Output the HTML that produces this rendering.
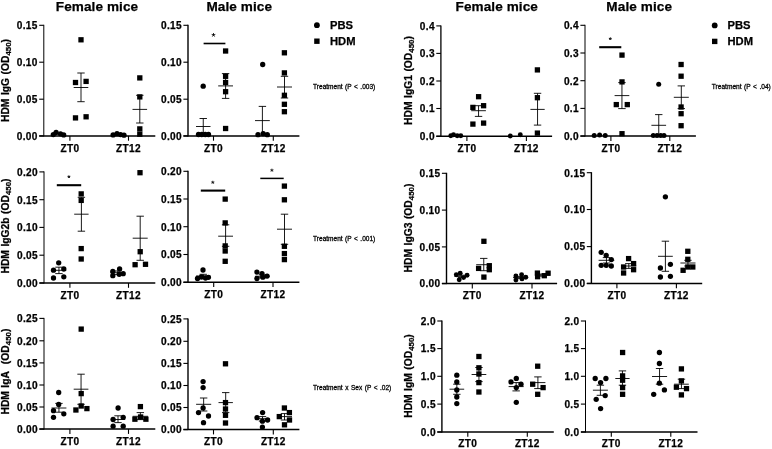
<!DOCTYPE html>
<html><head><meta charset="utf-8"><title>HDM immunoglobulins</title>
<style>
html,body{margin:0;padding:0;background:#fff;}
body{width:772px;height:449px;overflow:hidden;font-family:"Liberation Sans", sans-serif;}
svg{display:block;will-change:transform;filter:blur(0.4px);}
svg text{font-family:"Liberation Sans", sans-serif;fill:#000;stroke:#000;stroke-width:0.25px;}
</style></head><body>
<svg width="772" height="449" viewBox="0 0 772 449">
<rect width="772" height="449" fill="#fff"/>
<line x1="43.80" y1="24.80" x2="43.80" y2="136.40" stroke="#000" stroke-width="1.0"/>
<line x1="39.20" y1="135.90" x2="155.30" y2="135.90" stroke="#000" stroke-width="1.5"/>
<line x1="39.20" y1="25.30" x2="43.80" y2="25.30" stroke="#000" stroke-width="1.1"/>
<text x="37.80" y="29.15" font-size="10.1" font-weight="bold" text-anchor="end" letter-spacing="0.35">0.15</text>
<line x1="39.20" y1="62.20" x2="43.80" y2="62.20" stroke="#000" stroke-width="1.1"/>
<text x="37.80" y="66.05" font-size="10.1" font-weight="bold" text-anchor="end" letter-spacing="0.35">0.10</text>
<line x1="39.20" y1="99.20" x2="43.80" y2="99.20" stroke="#000" stroke-width="1.1"/>
<text x="37.80" y="103.05" font-size="10.1" font-weight="bold" text-anchor="end" letter-spacing="0.35">0.05</text>
<line x1="39.20" y1="135.90" x2="43.80" y2="135.90" stroke="#000" stroke-width="1.1"/>
<text x="37.80" y="139.75" font-size="10.1" font-weight="bold" text-anchor="end" letter-spacing="0.35">0.00</text>
<line x1="69.90" y1="135.90" x2="69.90" y2="140.70" stroke="#000" stroke-width="1.1"/>
<text x="69.90" y="151.60" font-size="10.1" font-weight="bold" text-anchor="middle" letter-spacing="0.3">ZT0</text>
<line x1="128.50" y1="135.90" x2="128.50" y2="140.70" stroke="#000" stroke-width="1.1"/>
<text x="128.50" y="151.60" font-size="10.1" font-weight="bold" text-anchor="middle" letter-spacing="0.3">ZT12</text>
<text transform="translate(8.80,80.50) rotate(-90)" font-size="10.3" font-weight="bold" text-anchor="middle" word-spacing="0.6">HDM IgG (OD<tspan font-size="7.9" dy="2.3">450</tspan><tspan dy="-2.3">)</tspan></text>
<circle cx="53.30" cy="134.60" r="2.65" fill="#000"/>
<circle cx="56.10" cy="132.50" r="2.65" fill="#000"/>
<circle cx="60.50" cy="133.80" r="2.65" fill="#000"/>
<circle cx="63.70" cy="134.90" r="2.65" fill="#000"/>
<rect x="78.35" y="37.15" width="5.3" height="5.3" fill="#000"/>
<rect x="72.85" y="79.85" width="5.3" height="5.3" fill="#000"/>
<rect x="83.45" y="78.75" width="5.3" height="5.3" fill="#000"/>
<rect x="72.85" y="115.25" width="5.3" height="5.3" fill="#000"/>
<rect x="83.45" y="114.15" width="5.3" height="5.3" fill="#000"/>
<line x1="73.70" y1="87.50" x2="88.30" y2="87.50" stroke="#000" stroke-width="0.9"/>
<line x1="81.00" y1="73.00" x2="81.00" y2="101.70" stroke="#000" stroke-width="0.9"/>
<line x1="77.30" y1="73.00" x2="84.70" y2="73.00" stroke="#000" stroke-width="0.9"/>
<line x1="77.30" y1="101.70" x2="84.70" y2="101.70" stroke="#000" stroke-width="0.9"/>
<circle cx="113.10" cy="134.90" r="2.65" fill="#000"/>
<circle cx="117.00" cy="133.70" r="2.65" fill="#000"/>
<circle cx="120.60" cy="134.60" r="2.65" fill="#000"/>
<circle cx="124.00" cy="135.20" r="2.65" fill="#000"/>
<rect x="137.15" y="75.25" width="5.3" height="5.3" fill="#000"/>
<rect x="137.15" y="94.25" width="5.3" height="5.3" fill="#000"/>
<rect x="137.15" y="126.25" width="5.3" height="5.3" fill="#000"/>
<rect x="137.15" y="131.55" width="5.3" height="5.3" fill="#000"/>
<line x1="132.50" y1="109.40" x2="147.10" y2="109.40" stroke="#000" stroke-width="0.9"/>
<line x1="139.80" y1="95.30" x2="139.80" y2="123.00" stroke="#000" stroke-width="0.9"/>
<line x1="136.10" y1="95.30" x2="143.50" y2="95.30" stroke="#000" stroke-width="0.9"/>
<line x1="136.10" y1="123.00" x2="143.50" y2="123.00" stroke="#000" stroke-width="0.9"/>
<line x1="188.00" y1="24.80" x2="188.00" y2="136.40" stroke="#000" stroke-width="1.4"/>
<line x1="183.40" y1="135.90" x2="299.40" y2="135.90" stroke="#000" stroke-width="1.5"/>
<line x1="183.40" y1="25.30" x2="188.00" y2="25.30" stroke="#000" stroke-width="1.1"/>
<text x="182.00" y="29.15" font-size="10.1" font-weight="bold" text-anchor="end" letter-spacing="0.35">0.15</text>
<line x1="183.40" y1="62.20" x2="188.00" y2="62.20" stroke="#000" stroke-width="1.1"/>
<text x="182.00" y="66.05" font-size="10.1" font-weight="bold" text-anchor="end" letter-spacing="0.35">0.10</text>
<line x1="183.40" y1="99.20" x2="188.00" y2="99.20" stroke="#000" stroke-width="1.1"/>
<text x="182.00" y="103.05" font-size="10.1" font-weight="bold" text-anchor="end" letter-spacing="0.35">0.05</text>
<line x1="183.40" y1="135.90" x2="188.00" y2="135.90" stroke="#000" stroke-width="1.1"/>
<text x="182.00" y="139.75" font-size="10.1" font-weight="bold" text-anchor="end" letter-spacing="0.35">0.00</text>
<line x1="213.50" y1="135.90" x2="213.50" y2="140.70" stroke="#000" stroke-width="1.1"/>
<text x="213.50" y="151.60" font-size="10.1" font-weight="bold" text-anchor="middle" letter-spacing="0.3">ZT0</text>
<line x1="273.30" y1="135.90" x2="273.30" y2="140.70" stroke="#000" stroke-width="1.1"/>
<text x="273.30" y="151.60" font-size="10.1" font-weight="bold" text-anchor="middle" letter-spacing="0.3">ZT12</text>
<circle cx="203.20" cy="86.20" r="2.65" fill="#000"/>
<circle cx="198.50" cy="134.50" r="2.65" fill="#000"/>
<circle cx="201.80" cy="134.50" r="2.65" fill="#000"/>
<circle cx="205.20" cy="134.50" r="2.65" fill="#000"/>
<circle cx="208.50" cy="134.50" r="2.65" fill="#000"/>
<line x1="196.00" y1="126.50" x2="210.50" y2="126.50" stroke="#000" stroke-width="0.9"/>
<line x1="203.25" y1="118.50" x2="203.25" y2="135.90" stroke="#000" stroke-width="0.9"/>
<line x1="199.55" y1="118.50" x2="206.95" y2="118.50" stroke="#000" stroke-width="0.9"/>
<rect x="222.95" y="48.35" width="5.3" height="5.3" fill="#000"/>
<rect x="222.95" y="73.65" width="5.3" height="5.3" fill="#000"/>
<rect x="222.95" y="79.85" width="5.3" height="5.3" fill="#000"/>
<rect x="222.95" y="89.05" width="5.3" height="5.3" fill="#000"/>
<rect x="222.95" y="125.85" width="5.3" height="5.3" fill="#000"/>
<line x1="218.20" y1="85.90" x2="233.00" y2="85.90" stroke="#000" stroke-width="0.9"/>
<line x1="225.60" y1="73.60" x2="225.60" y2="98.40" stroke="#000" stroke-width="0.9"/>
<line x1="221.90" y1="73.60" x2="229.30" y2="73.60" stroke="#000" stroke-width="0.9"/>
<line x1="221.90" y1="98.40" x2="229.30" y2="98.40" stroke="#000" stroke-width="0.9"/>
<circle cx="262.70" cy="64.50" r="2.65" fill="#000"/>
<circle cx="258.00" cy="134.70" r="2.65" fill="#000"/>
<circle cx="263.20" cy="133.70" r="2.65" fill="#000"/>
<circle cx="267.30" cy="134.70" r="2.65" fill="#000"/>
<line x1="255.00" y1="120.60" x2="269.80" y2="120.60" stroke="#000" stroke-width="0.9"/>
<line x1="262.40" y1="106.40" x2="262.40" y2="135.90" stroke="#000" stroke-width="0.9"/>
<line x1="258.70" y1="106.40" x2="266.10" y2="106.40" stroke="#000" stroke-width="0.9"/>
<rect x="281.75" y="50.15" width="5.3" height="5.3" fill="#000"/>
<rect x="281.75" y="70.25" width="5.3" height="5.3" fill="#000"/>
<rect x="281.75" y="92.65" width="5.3" height="5.3" fill="#000"/>
<rect x="281.75" y="101.65" width="5.3" height="5.3" fill="#000"/>
<rect x="281.75" y="109.05" width="5.3" height="5.3" fill="#000"/>
<line x1="277.00" y1="87.00" x2="292.00" y2="87.00" stroke="#000" stroke-width="0.9"/>
<line x1="284.50" y1="76.30" x2="284.50" y2="98.00" stroke="#000" stroke-width="0.9"/>
<line x1="280.80" y1="76.30" x2="288.20" y2="76.30" stroke="#000" stroke-width="0.9"/>
<line x1="280.80" y1="98.00" x2="288.20" y2="98.00" stroke="#000" stroke-width="0.9"/>
<line x1="203.60" y1="43.50" x2="225.40" y2="43.50" stroke="#000" stroke-width="1.6"/>
<path d="M213.50 35.00L213.50 33.10M213.50 35.00L215.31 34.41M213.50 35.00L214.62 36.54M213.50 35.00L212.38 36.54M213.50 35.00L211.69 34.41" stroke="#000" stroke-width="0.9" fill="none"/>
<line x1="44.00" y1="171.40" x2="44.00" y2="283.50" stroke="#000" stroke-width="1.0"/>
<line x1="39.40" y1="283.00" x2="155.30" y2="283.00" stroke="#000" stroke-width="1.5"/>
<line x1="39.40" y1="171.90" x2="44.00" y2="171.90" stroke="#000" stroke-width="1.1"/>
<text x="38.00" y="175.75" font-size="10.1" font-weight="bold" text-anchor="end" letter-spacing="0.35">0.20</text>
<line x1="39.40" y1="199.70" x2="44.00" y2="199.70" stroke="#000" stroke-width="1.1"/>
<text x="38.00" y="203.55" font-size="10.1" font-weight="bold" text-anchor="end" letter-spacing="0.35">0.15</text>
<line x1="39.40" y1="227.40" x2="44.00" y2="227.40" stroke="#000" stroke-width="1.1"/>
<text x="38.00" y="231.25" font-size="10.1" font-weight="bold" text-anchor="end" letter-spacing="0.35">0.10</text>
<line x1="39.40" y1="255.20" x2="44.00" y2="255.20" stroke="#000" stroke-width="1.1"/>
<text x="38.00" y="259.05" font-size="10.1" font-weight="bold" text-anchor="end" letter-spacing="0.35">0.05</text>
<line x1="39.40" y1="283.00" x2="44.00" y2="283.00" stroke="#000" stroke-width="1.1"/>
<text x="38.00" y="286.85" font-size="10.1" font-weight="bold" text-anchor="end" letter-spacing="0.35">0.00</text>
<line x1="69.90" y1="283.00" x2="69.90" y2="287.80" stroke="#000" stroke-width="1.1"/>
<text x="69.90" y="298.80" font-size="10.1" font-weight="bold" text-anchor="middle" letter-spacing="0.3">ZT0</text>
<line x1="128.50" y1="283.00" x2="128.50" y2="287.80" stroke="#000" stroke-width="1.1"/>
<text x="128.50" y="298.80" font-size="10.1" font-weight="bold" text-anchor="middle" letter-spacing="0.3">ZT12</text>
<text transform="translate(8.80,226.00) rotate(-90)" font-size="10.3" font-weight="bold" text-anchor="middle" word-spacing="0.6">HDM IgG2b (OD<tspan font-size="7.9" dy="2.3">450</tspan><tspan dy="-2.3">)</tspan></text>
<circle cx="58.70" cy="262.80" r="2.65" fill="#000"/>
<circle cx="53.50" cy="270.20" r="2.65" fill="#000"/>
<circle cx="63.80" cy="269.00" r="2.65" fill="#000"/>
<circle cx="53.50" cy="278.00" r="2.65" fill="#000"/>
<circle cx="63.80" cy="276.80" r="2.65" fill="#000"/>
<line x1="51.70" y1="270.30" x2="66.20" y2="270.30" stroke="#000" stroke-width="0.9"/>
<line x1="58.95" y1="267.20" x2="58.95" y2="273.60" stroke="#000" stroke-width="0.9"/>
<line x1="55.25" y1="267.20" x2="62.65" y2="267.20" stroke="#000" stroke-width="0.9"/>
<line x1="55.25" y1="273.60" x2="62.65" y2="273.60" stroke="#000" stroke-width="0.9"/>
<rect x="78.55" y="191.25" width="5.3" height="5.3" fill="#000"/>
<rect x="78.55" y="197.75" width="5.3" height="5.3" fill="#000"/>
<rect x="78.55" y="245.95" width="5.3" height="5.3" fill="#000"/>
<rect x="78.55" y="256.35" width="5.3" height="5.3" fill="#000"/>
<line x1="74.20" y1="214.20" x2="88.60" y2="214.20" stroke="#000" stroke-width="0.9"/>
<line x1="81.40" y1="197.30" x2="81.40" y2="231.20" stroke="#000" stroke-width="0.9"/>
<line x1="77.70" y1="197.30" x2="85.10" y2="197.30" stroke="#000" stroke-width="0.9"/>
<line x1="77.70" y1="231.20" x2="85.10" y2="231.20" stroke="#000" stroke-width="0.9"/>
<circle cx="112.80" cy="271.50" r="2.65" fill="#000"/>
<circle cx="119.60" cy="269.00" r="2.65" fill="#000"/>
<circle cx="123.20" cy="273.70" r="2.65" fill="#000"/>
<circle cx="112.80" cy="275.70" r="2.65" fill="#000"/>
<circle cx="119.20" cy="274.30" r="2.65" fill="#000"/>
<line x1="110.50" y1="272.70" x2="125.00" y2="272.70" stroke="#000" stroke-width="0.9"/>
<line x1="117.75" y1="271.00" x2="117.75" y2="274.40" stroke="#000" stroke-width="0.9"/>
<line x1="114.05" y1="271.00" x2="121.45" y2="271.00" stroke="#000" stroke-width="0.9"/>
<line x1="114.05" y1="274.40" x2="121.45" y2="274.40" stroke="#000" stroke-width="0.9"/>
<rect x="137.35" y="170.05" width="5.3" height="5.3" fill="#000"/>
<rect x="137.55" y="249.05" width="5.3" height="5.3" fill="#000"/>
<rect x="132.45" y="262.05" width="5.3" height="5.3" fill="#000"/>
<rect x="142.85" y="261.65" width="5.3" height="5.3" fill="#000"/>
<line x1="132.70" y1="238.20" x2="147.70" y2="238.20" stroke="#000" stroke-width="0.9"/>
<line x1="140.20" y1="216.20" x2="140.20" y2="260.30" stroke="#000" stroke-width="0.9"/>
<line x1="136.50" y1="216.20" x2="143.90" y2="216.20" stroke="#000" stroke-width="0.9"/>
<line x1="136.50" y1="260.30" x2="143.90" y2="260.30" stroke="#000" stroke-width="0.9"/>
<line x1="56.80" y1="185.20" x2="81.20" y2="185.20" stroke="#000" stroke-width="2.1"/>
<path d="M68.90 176.80L68.90 175.30M68.90 176.80L70.33 176.34M68.90 176.80L69.78 178.01M68.90 176.80L68.02 178.01M68.90 176.80L67.47 176.34" stroke="#000" stroke-width="0.9" fill="none"/>
<line x1="188.00" y1="170.80" x2="188.00" y2="282.80" stroke="#000" stroke-width="1.4"/>
<line x1="183.40" y1="282.30" x2="299.40" y2="282.30" stroke="#000" stroke-width="1.5"/>
<line x1="183.40" y1="171.30" x2="188.00" y2="171.30" stroke="#000" stroke-width="1.1"/>
<text x="182.00" y="175.15" font-size="10.1" font-weight="bold" text-anchor="end" letter-spacing="0.35">0.20</text>
<line x1="183.40" y1="199.00" x2="188.00" y2="199.00" stroke="#000" stroke-width="1.1"/>
<text x="182.00" y="202.85" font-size="10.1" font-weight="bold" text-anchor="end" letter-spacing="0.35">0.15</text>
<line x1="183.40" y1="226.70" x2="188.00" y2="226.70" stroke="#000" stroke-width="1.1"/>
<text x="182.00" y="230.55" font-size="10.1" font-weight="bold" text-anchor="end" letter-spacing="0.35">0.10</text>
<line x1="183.40" y1="254.50" x2="188.00" y2="254.50" stroke="#000" stroke-width="1.1"/>
<text x="182.00" y="258.35" font-size="10.1" font-weight="bold" text-anchor="end" letter-spacing="0.35">0.05</text>
<line x1="183.40" y1="282.30" x2="188.00" y2="282.30" stroke="#000" stroke-width="1.1"/>
<text x="182.00" y="286.15" font-size="10.1" font-weight="bold" text-anchor="end" letter-spacing="0.35">0.00</text>
<line x1="213.70" y1="282.30" x2="213.70" y2="287.10" stroke="#000" stroke-width="1.1"/>
<text x="213.70" y="298.20" font-size="10.1" font-weight="bold" text-anchor="middle" letter-spacing="0.3">ZT0</text>
<line x1="273.00" y1="282.30" x2="273.00" y2="287.10" stroke="#000" stroke-width="1.1"/>
<text x="273.00" y="298.20" font-size="10.1" font-weight="bold" text-anchor="middle" letter-spacing="0.3">ZT12</text>
<circle cx="203.00" cy="270.00" r="2.65" fill="#000"/>
<circle cx="197.50" cy="278.50" r="2.65" fill="#000"/>
<circle cx="201.50" cy="277.00" r="2.65" fill="#000"/>
<circle cx="205.50" cy="278.00" r="2.65" fill="#000"/>
<circle cx="208.40" cy="277.30" r="2.65" fill="#000"/>
<line x1="196.00" y1="276.00" x2="210.50" y2="276.00" stroke="#000" stroke-width="0.9"/>
<line x1="203.25" y1="274.30" x2="203.25" y2="277.70" stroke="#000" stroke-width="0.9"/>
<line x1="199.55" y1="274.30" x2="206.95" y2="274.30" stroke="#000" stroke-width="0.9"/>
<line x1="199.55" y1="277.70" x2="206.95" y2="277.70" stroke="#000" stroke-width="0.9"/>
<rect x="222.55" y="196.45" width="5.3" height="5.3" fill="#000"/>
<rect x="222.55" y="220.25" width="5.3" height="5.3" fill="#000"/>
<rect x="222.55" y="243.25" width="5.3" height="5.3" fill="#000"/>
<rect x="222.55" y="248.35" width="5.3" height="5.3" fill="#000"/>
<rect x="222.55" y="258.65" width="5.3" height="5.3" fill="#000"/>
<line x1="218.20" y1="236.20" x2="233.00" y2="236.20" stroke="#000" stroke-width="0.9"/>
<line x1="225.60" y1="224.80" x2="225.60" y2="246.30" stroke="#000" stroke-width="0.9"/>
<line x1="221.90" y1="224.80" x2="229.30" y2="224.80" stroke="#000" stroke-width="0.9"/>
<line x1="221.90" y1="246.30" x2="229.30" y2="246.30" stroke="#000" stroke-width="0.9"/>
<circle cx="256.90" cy="272.10" r="2.65" fill="#000"/>
<circle cx="262.00" cy="273.60" r="2.65" fill="#000"/>
<circle cx="267.10" cy="276.10" r="2.65" fill="#000"/>
<circle cx="256.90" cy="278.50" r="2.65" fill="#000"/>
<circle cx="262.80" cy="277.20" r="2.65" fill="#000"/>
<line x1="255.00" y1="276.30" x2="269.80" y2="276.30" stroke="#000" stroke-width="0.9"/>
<line x1="262.40" y1="274.80" x2="262.40" y2="277.80" stroke="#000" stroke-width="0.9"/>
<line x1="258.70" y1="274.80" x2="266.10" y2="274.80" stroke="#000" stroke-width="0.9"/>
<line x1="258.70" y1="277.80" x2="266.10" y2="277.80" stroke="#000" stroke-width="0.9"/>
<rect x="281.75" y="183.45" width="5.3" height="5.3" fill="#000"/>
<rect x="281.75" y="197.15" width="5.3" height="5.3" fill="#000"/>
<rect x="281.75" y="243.65" width="5.3" height="5.3" fill="#000"/>
<rect x="281.75" y="250.95" width="5.3" height="5.3" fill="#000"/>
<rect x="281.75" y="256.95" width="5.3" height="5.3" fill="#000"/>
<line x1="277.00" y1="229.20" x2="292.00" y2="229.20" stroke="#000" stroke-width="0.9"/>
<line x1="284.50" y1="214.20" x2="284.50" y2="244.30" stroke="#000" stroke-width="0.9"/>
<line x1="280.80" y1="214.20" x2="288.20" y2="214.20" stroke="#000" stroke-width="0.9"/>
<line x1="280.80" y1="244.30" x2="288.20" y2="244.30" stroke="#000" stroke-width="0.9"/>
<line x1="200.80" y1="190.60" x2="225.20" y2="190.60" stroke="#000" stroke-width="2.1"/>
<path d="M212.80 182.40L212.80 180.80M212.80 182.40L214.32 181.91M212.80 182.40L213.74 183.69M212.80 182.40L211.86 183.69M212.80 182.40L211.28 181.91" stroke="#000" stroke-width="0.9" fill="none"/>
<line x1="260.30" y1="178.40" x2="283.70" y2="178.40" stroke="#000" stroke-width="1.5"/>
<path d="M271.90 170.30L271.90 168.70M271.90 170.30L273.42 169.81M271.90 170.30L272.84 171.59M271.90 170.30L270.96 171.59M271.90 170.30L270.38 169.81" stroke="#000" stroke-width="0.9" fill="none"/>
<line x1="44.00" y1="317.90" x2="44.00" y2="429.60" stroke="#000" stroke-width="1.0"/>
<line x1="39.40" y1="429.10" x2="155.30" y2="429.10" stroke="#000" stroke-width="1.5"/>
<line x1="39.40" y1="318.40" x2="44.00" y2="318.40" stroke="#000" stroke-width="1.1"/>
<text x="38.00" y="322.25" font-size="10.1" font-weight="bold" text-anchor="end" letter-spacing="0.35">0.25</text>
<line x1="39.40" y1="340.80" x2="44.00" y2="340.80" stroke="#000" stroke-width="1.1"/>
<text x="38.00" y="344.65" font-size="10.1" font-weight="bold" text-anchor="end" letter-spacing="0.35">0.20</text>
<line x1="39.40" y1="362.90" x2="44.00" y2="362.90" stroke="#000" stroke-width="1.1"/>
<text x="38.00" y="366.75" font-size="10.1" font-weight="bold" text-anchor="end" letter-spacing="0.35">0.15</text>
<line x1="39.40" y1="385.00" x2="44.00" y2="385.00" stroke="#000" stroke-width="1.1"/>
<text x="38.00" y="388.85" font-size="10.1" font-weight="bold" text-anchor="end" letter-spacing="0.35">0.10</text>
<line x1="39.40" y1="407.00" x2="44.00" y2="407.00" stroke="#000" stroke-width="1.1"/>
<text x="38.00" y="410.85" font-size="10.1" font-weight="bold" text-anchor="end" letter-spacing="0.35">0.05</text>
<line x1="39.40" y1="429.10" x2="44.00" y2="429.10" stroke="#000" stroke-width="1.1"/>
<text x="38.00" y="432.95" font-size="10.1" font-weight="bold" text-anchor="end" letter-spacing="0.35">0.00</text>
<line x1="69.90" y1="429.10" x2="69.90" y2="433.90" stroke="#000" stroke-width="1.1"/>
<text x="69.90" y="445.40" font-size="10.1" font-weight="bold" text-anchor="middle" letter-spacing="0.3">ZT0</text>
<line x1="128.50" y1="429.10" x2="128.50" y2="433.90" stroke="#000" stroke-width="1.1"/>
<text x="128.50" y="445.40" font-size="10.1" font-weight="bold" text-anchor="middle" letter-spacing="0.3">ZT12</text>
<text transform="translate(8.80,371.60) rotate(-90)" font-size="10.3" font-weight="bold" text-anchor="middle" word-spacing="0.6">HDM IgA&#160; (OD<tspan font-size="7.9" dy="2.3">450</tspan><tspan dy="-2.3">)</tspan></text>
<circle cx="58.70" cy="392.50" r="2.65" fill="#000"/>
<circle cx="58.70" cy="404.40" r="2.65" fill="#000"/>
<circle cx="53.50" cy="410.70" r="2.65" fill="#000"/>
<circle cx="63.80" cy="413.80" r="2.65" fill="#000"/>
<circle cx="53.50" cy="417.30" r="2.65" fill="#000"/>
<line x1="51.50" y1="408.00" x2="66.40" y2="408.00" stroke="#000" stroke-width="0.9"/>
<line x1="58.95" y1="403.40" x2="58.95" y2="412.20" stroke="#000" stroke-width="0.9"/>
<line x1="55.25" y1="403.40" x2="62.65" y2="403.40" stroke="#000" stroke-width="0.9"/>
<line x1="55.25" y1="412.20" x2="62.65" y2="412.20" stroke="#000" stroke-width="0.9"/>
<rect x="78.55" y="326.45" width="5.3" height="5.3" fill="#000"/>
<rect x="78.55" y="390.95" width="5.3" height="5.3" fill="#000"/>
<rect x="78.55" y="403.35" width="5.3" height="5.3" fill="#000"/>
<rect x="73.25" y="407.35" width="5.3" height="5.3" fill="#000"/>
<rect x="84.25" y="405.95" width="5.3" height="5.3" fill="#000"/>
<line x1="73.70" y1="389.20" x2="88.40" y2="389.20" stroke="#000" stroke-width="0.9"/>
<line x1="81.05" y1="374.20" x2="81.05" y2="404.30" stroke="#000" stroke-width="0.9"/>
<line x1="77.35" y1="374.20" x2="84.75" y2="374.20" stroke="#000" stroke-width="0.9"/>
<line x1="77.35" y1="404.30" x2="84.75" y2="404.30" stroke="#000" stroke-width="0.9"/>
<circle cx="118.10" cy="408.00" r="2.65" fill="#000"/>
<circle cx="123.20" cy="417.30" r="2.65" fill="#000"/>
<circle cx="113.10" cy="419.50" r="2.65" fill="#000"/>
<circle cx="113.10" cy="426.20" r="2.65" fill="#000"/>
<circle cx="123.20" cy="426.20" r="2.65" fill="#000"/>
<line x1="110.80" y1="419.50" x2="125.20" y2="419.50" stroke="#000" stroke-width="0.9"/>
<line x1="118.00" y1="415.80" x2="118.00" y2="422.60" stroke="#000" stroke-width="0.9"/>
<line x1="114.30" y1="415.80" x2="121.70" y2="415.80" stroke="#000" stroke-width="0.9"/>
<line x1="114.30" y1="422.60" x2="121.70" y2="422.60" stroke="#000" stroke-width="0.9"/>
<rect x="137.75" y="403.95" width="5.3" height="5.3" fill="#000"/>
<rect x="132.25" y="416.55" width="5.3" height="5.3" fill="#000"/>
<rect x="137.95" y="414.35" width="5.3" height="5.3" fill="#000"/>
<rect x="143.25" y="416.55" width="5.3" height="5.3" fill="#000"/>
<line x1="132.70" y1="416.30" x2="148.00" y2="416.30" stroke="#000" stroke-width="0.9"/>
<line x1="140.35" y1="412.60" x2="140.35" y2="419.60" stroke="#000" stroke-width="0.9"/>
<line x1="136.65" y1="412.60" x2="144.05" y2="412.60" stroke="#000" stroke-width="0.9"/>
<line x1="136.65" y1="419.60" x2="144.05" y2="419.60" stroke="#000" stroke-width="0.9"/>
<line x1="188.00" y1="318.40" x2="188.00" y2="430.10" stroke="#000" stroke-width="1.4"/>
<line x1="183.40" y1="429.60" x2="299.40" y2="429.60" stroke="#000" stroke-width="1.5"/>
<line x1="183.40" y1="318.90" x2="188.00" y2="318.90" stroke="#000" stroke-width="1.1"/>
<text x="182.00" y="322.75" font-size="10.1" font-weight="bold" text-anchor="end" letter-spacing="0.35">0.25</text>
<line x1="183.40" y1="341.30" x2="188.00" y2="341.30" stroke="#000" stroke-width="1.1"/>
<text x="182.00" y="345.15" font-size="10.1" font-weight="bold" text-anchor="end" letter-spacing="0.35">0.20</text>
<line x1="183.40" y1="363.40" x2="188.00" y2="363.40" stroke="#000" stroke-width="1.1"/>
<text x="182.00" y="367.25" font-size="10.1" font-weight="bold" text-anchor="end" letter-spacing="0.35">0.15</text>
<line x1="183.40" y1="385.50" x2="188.00" y2="385.50" stroke="#000" stroke-width="1.1"/>
<text x="182.00" y="389.35" font-size="10.1" font-weight="bold" text-anchor="end" letter-spacing="0.35">0.10</text>
<line x1="183.40" y1="407.50" x2="188.00" y2="407.50" stroke="#000" stroke-width="1.1"/>
<text x="182.00" y="411.35" font-size="10.1" font-weight="bold" text-anchor="end" letter-spacing="0.35">0.05</text>
<line x1="183.40" y1="429.60" x2="188.00" y2="429.60" stroke="#000" stroke-width="1.1"/>
<text x="182.00" y="433.45" font-size="10.1" font-weight="bold" text-anchor="end" letter-spacing="0.35">0.00</text>
<line x1="213.50" y1="429.60" x2="213.50" y2="434.40" stroke="#000" stroke-width="1.1"/>
<text x="213.50" y="445.40" font-size="10.1" font-weight="bold" text-anchor="middle" letter-spacing="0.3">ZT0</text>
<line x1="273.30" y1="429.60" x2="273.30" y2="434.40" stroke="#000" stroke-width="1.1"/>
<text x="273.30" y="445.40" font-size="10.1" font-weight="bold" text-anchor="middle" letter-spacing="0.3">ZT12</text>
<circle cx="203.10" cy="381.60" r="2.65" fill="#000"/>
<circle cx="203.10" cy="387.60" r="2.65" fill="#000"/>
<circle cx="203.10" cy="407.90" r="2.65" fill="#000"/>
<circle cx="198.50" cy="412.60" r="2.65" fill="#000"/>
<circle cx="208.50" cy="416.00" r="2.65" fill="#000"/>
<circle cx="203.50" cy="422.70" r="2.65" fill="#000"/>
<line x1="196.10" y1="404.30" x2="211.20" y2="404.30" stroke="#000" stroke-width="0.9"/>
<line x1="203.65" y1="398.00" x2="203.65" y2="411.00" stroke="#000" stroke-width="0.9"/>
<line x1="199.95" y1="398.00" x2="207.35" y2="398.00" stroke="#000" stroke-width="0.9"/>
<line x1="199.95" y1="411.00" x2="207.35" y2="411.00" stroke="#000" stroke-width="0.9"/>
<rect x="222.85" y="361.15" width="5.3" height="5.3" fill="#000"/>
<rect x="222.85" y="399.95" width="5.3" height="5.3" fill="#000"/>
<rect x="222.85" y="406.35" width="5.3" height="5.3" fill="#000"/>
<rect x="222.85" y="412.65" width="5.3" height="5.3" fill="#000"/>
<rect x="222.85" y="420.35" width="5.3" height="5.3" fill="#000"/>
<line x1="218.50" y1="402.60" x2="232.90" y2="402.60" stroke="#000" stroke-width="0.9"/>
<line x1="225.70" y1="392.60" x2="225.70" y2="412.60" stroke="#000" stroke-width="0.9"/>
<line x1="222.00" y1="392.60" x2="229.40" y2="392.60" stroke="#000" stroke-width="0.9"/>
<line x1="222.00" y1="412.60" x2="229.40" y2="412.60" stroke="#000" stroke-width="0.9"/>
<circle cx="262.60" cy="412.60" r="2.65" fill="#000"/>
<circle cx="257.00" cy="417.70" r="2.65" fill="#000"/>
<circle cx="267.60" cy="420.00" r="2.65" fill="#000"/>
<circle cx="262.40" cy="421.20" r="2.65" fill="#000"/>
<circle cx="262.40" cy="427.10" r="2.65" fill="#000"/>
<line x1="255.30" y1="418.70" x2="269.70" y2="418.70" stroke="#000" stroke-width="0.9"/>
<line x1="262.50" y1="416.60" x2="262.50" y2="421.00" stroke="#000" stroke-width="0.9"/>
<line x1="258.80" y1="416.60" x2="266.20" y2="416.60" stroke="#000" stroke-width="0.9"/>
<line x1="258.80" y1="421.00" x2="266.20" y2="421.00" stroke="#000" stroke-width="0.9"/>
<rect x="281.75" y="405.35" width="5.3" height="5.3" fill="#000"/>
<rect x="286.75" y="409.95" width="5.3" height="5.3" fill="#000"/>
<rect x="276.65" y="413.95" width="5.3" height="5.3" fill="#000"/>
<rect x="286.85" y="417.35" width="5.3" height="5.3" fill="#000"/>
<rect x="281.85" y="422.15" width="5.3" height="5.3" fill="#000"/>
<line x1="277.00" y1="416.60" x2="292.00" y2="416.60" stroke="#000" stroke-width="0.9"/>
<line x1="284.50" y1="413.60" x2="284.50" y2="420.00" stroke="#000" stroke-width="0.9"/>
<line x1="280.80" y1="413.60" x2="288.20" y2="413.60" stroke="#000" stroke-width="0.9"/>
<line x1="280.80" y1="420.00" x2="288.20" y2="420.00" stroke="#000" stroke-width="0.9"/>
<line x1="440.90" y1="25.40" x2="440.90" y2="136.80" stroke="#000" stroke-width="1.3"/>
<line x1="436.30" y1="136.30" x2="552.10" y2="136.30" stroke="#000" stroke-width="1.5"/>
<line x1="436.30" y1="25.90" x2="440.90" y2="25.90" stroke="#000" stroke-width="1.1"/>
<text x="434.90" y="29.75" font-size="10.1" font-weight="bold" text-anchor="end" letter-spacing="0.35">0.4</text>
<line x1="436.30" y1="53.40" x2="440.90" y2="53.40" stroke="#000" stroke-width="1.1"/>
<text x="434.90" y="57.25" font-size="10.1" font-weight="bold" text-anchor="end" letter-spacing="0.35">0.3</text>
<line x1="436.30" y1="81.00" x2="440.90" y2="81.00" stroke="#000" stroke-width="1.1"/>
<text x="434.90" y="84.85" font-size="10.1" font-weight="bold" text-anchor="end" letter-spacing="0.35">0.2</text>
<line x1="436.30" y1="108.50" x2="440.90" y2="108.50" stroke="#000" stroke-width="1.1"/>
<text x="434.90" y="112.35" font-size="10.1" font-weight="bold" text-anchor="end" letter-spacing="0.35">0.1</text>
<line x1="436.30" y1="136.30" x2="440.90" y2="136.30" stroke="#000" stroke-width="1.1"/>
<text x="434.90" y="140.15" font-size="10.1" font-weight="bold" text-anchor="end" letter-spacing="0.35">0.0</text>
<line x1="466.90" y1="136.30" x2="466.90" y2="141.10" stroke="#000" stroke-width="1.1"/>
<text x="466.90" y="151.60" font-size="10.1" font-weight="bold" text-anchor="middle" letter-spacing="0.3">ZT0</text>
<line x1="526.40" y1="136.30" x2="526.40" y2="141.10" stroke="#000" stroke-width="1.1"/>
<text x="526.40" y="151.60" font-size="10.1" font-weight="bold" text-anchor="middle" letter-spacing="0.3">ZT12</text>
<text transform="translate(411.90,80.50) rotate(-90)" font-size="10.3" font-weight="bold" text-anchor="middle" word-spacing="0.6">HDM IgG1 (OD<tspan font-size="7.9" dy="2.3">450</tspan><tspan dy="-2.3">)</tspan></text>
<circle cx="450.80" cy="135.80" r="2.45" fill="#000"/>
<circle cx="453.50" cy="134.70" r="2.45" fill="#000"/>
<circle cx="457.20" cy="135.80" r="2.45" fill="#000"/>
<circle cx="460.80" cy="135.80" r="2.45" fill="#000"/>
<rect x="475.95" y="94.05" width="5.3" height="5.3" fill="#000"/>
<rect x="470.25" y="104.75" width="5.3" height="5.3" fill="#000"/>
<rect x="480.95" y="103.05" width="5.3" height="5.3" fill="#000"/>
<rect x="470.25" y="121.45" width="5.3" height="5.3" fill="#000"/>
<rect x="480.95" y="120.45" width="5.3" height="5.3" fill="#000"/>
<line x1="471.20" y1="110.70" x2="485.90" y2="110.70" stroke="#000" stroke-width="0.9"/>
<line x1="478.55" y1="105.70" x2="478.55" y2="116.40" stroke="#000" stroke-width="0.9"/>
<line x1="474.85" y1="105.70" x2="482.25" y2="105.70" stroke="#000" stroke-width="0.9"/>
<line x1="474.85" y1="116.40" x2="482.25" y2="116.40" stroke="#000" stroke-width="0.9"/>
<circle cx="510.30" cy="136.00" r="2.45" fill="#000"/>
<circle cx="520.30" cy="134.80" r="2.45" fill="#000"/>
<rect x="534.75" y="67.25" width="5.3" height="5.3" fill="#000"/>
<rect x="534.75" y="95.05" width="5.3" height="5.3" fill="#000"/>
<rect x="534.75" y="130.45" width="5.3" height="5.3" fill="#000"/>
<line x1="530.40" y1="109.40" x2="544.70" y2="109.40" stroke="#000" stroke-width="0.9"/>
<line x1="537.55" y1="93.30" x2="537.55" y2="125.10" stroke="#000" stroke-width="0.9"/>
<line x1="533.85" y1="93.30" x2="541.25" y2="93.30" stroke="#000" stroke-width="0.9"/>
<line x1="533.85" y1="125.10" x2="541.25" y2="125.10" stroke="#000" stroke-width="0.9"/>
<line x1="585.00" y1="24.80" x2="585.00" y2="136.60" stroke="#000" stroke-width="1.0"/>
<line x1="580.40" y1="136.10" x2="695.90" y2="136.10" stroke="#000" stroke-width="1.5"/>
<line x1="580.40" y1="25.30" x2="585.00" y2="25.30" stroke="#000" stroke-width="1.1"/>
<text x="579.00" y="29.15" font-size="10.1" font-weight="bold" text-anchor="end" letter-spacing="0.35">0.4</text>
<line x1="580.40" y1="53.00" x2="585.00" y2="53.00" stroke="#000" stroke-width="1.1"/>
<text x="579.00" y="56.85" font-size="10.1" font-weight="bold" text-anchor="end" letter-spacing="0.35">0.3</text>
<line x1="580.40" y1="80.70" x2="585.00" y2="80.70" stroke="#000" stroke-width="1.1"/>
<text x="579.00" y="84.55" font-size="10.1" font-weight="bold" text-anchor="end" letter-spacing="0.35">0.2</text>
<line x1="580.40" y1="108.40" x2="585.00" y2="108.40" stroke="#000" stroke-width="1.1"/>
<text x="579.00" y="112.25" font-size="10.1" font-weight="bold" text-anchor="end" letter-spacing="0.35">0.1</text>
<line x1="580.40" y1="136.10" x2="585.00" y2="136.10" stroke="#000" stroke-width="1.1"/>
<text x="579.00" y="139.95" font-size="10.1" font-weight="bold" text-anchor="end" letter-spacing="0.35">0.0</text>
<line x1="610.90" y1="136.10" x2="610.90" y2="140.90" stroke="#000" stroke-width="1.1"/>
<text x="610.90" y="151.60" font-size="10.1" font-weight="bold" text-anchor="middle" letter-spacing="0.3">ZT0</text>
<line x1="669.80" y1="136.10" x2="669.80" y2="140.90" stroke="#000" stroke-width="1.1"/>
<text x="669.80" y="151.60" font-size="10.1" font-weight="bold" text-anchor="middle" letter-spacing="0.3">ZT12</text>
<circle cx="594.20" cy="135.60" r="2.5" fill="#000"/>
<circle cx="599.60" cy="135.00" r="2.5" fill="#000"/>
<circle cx="605.20" cy="135.60" r="2.5" fill="#000"/>
<rect x="619.35" y="52.45" width="5.3" height="5.3" fill="#000"/>
<rect x="619.35" y="79.25" width="5.3" height="5.3" fill="#000"/>
<rect x="613.65" y="101.95" width="5.3" height="5.3" fill="#000"/>
<rect x="624.65" y="101.95" width="5.3" height="5.3" fill="#000"/>
<rect x="619.35" y="131.05" width="5.3" height="5.3" fill="#000"/>
<line x1="614.60" y1="95.60" x2="629.30" y2="95.60" stroke="#000" stroke-width="0.9"/>
<line x1="621.95" y1="82.60" x2="621.95" y2="108.60" stroke="#000" stroke-width="0.9"/>
<line x1="618.25" y1="82.60" x2="625.65" y2="82.60" stroke="#000" stroke-width="0.9"/>
<line x1="618.25" y1="108.60" x2="625.65" y2="108.60" stroke="#000" stroke-width="0.9"/>
<circle cx="658.70" cy="84.20" r="2.5" fill="#000"/>
<circle cx="653.30" cy="135.60" r="2.5" fill="#000"/>
<circle cx="657.00" cy="135.60" r="2.5" fill="#000"/>
<circle cx="660.70" cy="135.60" r="2.5" fill="#000"/>
<circle cx="664.00" cy="135.60" r="2.5" fill="#000"/>
<line x1="651.40" y1="125.30" x2="666.10" y2="125.30" stroke="#000" stroke-width="0.9"/>
<line x1="658.75" y1="114.60" x2="658.75" y2="136.10" stroke="#000" stroke-width="0.9"/>
<line x1="655.05" y1="114.60" x2="662.45" y2="114.60" stroke="#000" stroke-width="0.9"/>
<rect x="678.45" y="61.85" width="5.3" height="5.3" fill="#000"/>
<rect x="678.45" y="73.55" width="5.3" height="5.3" fill="#000"/>
<rect x="678.45" y="104.35" width="5.3" height="5.3" fill="#000"/>
<rect x="678.45" y="111.05" width="5.3" height="5.3" fill="#000"/>
<rect x="678.45" y="123.05" width="5.3" height="5.3" fill="#000"/>
<line x1="673.80" y1="97.30" x2="688.80" y2="97.30" stroke="#000" stroke-width="0.9"/>
<line x1="681.30" y1="85.90" x2="681.30" y2="108.60" stroke="#000" stroke-width="0.9"/>
<line x1="677.60" y1="85.90" x2="685.00" y2="85.90" stroke="#000" stroke-width="0.9"/>
<line x1="677.60" y1="108.60" x2="685.00" y2="108.60" stroke="#000" stroke-width="0.9"/>
<line x1="599.20" y1="47.20" x2="621.30" y2="47.20" stroke="#000" stroke-width="2.1"/>
<path d="M610.30 38.80L610.30 37.30M610.30 38.80L611.73 38.34M610.30 38.80L611.18 40.01M610.30 38.80L609.42 40.01M610.30 38.80L608.87 38.34" stroke="#000" stroke-width="0.9" fill="none"/>
<line x1="446.50" y1="172.80" x2="446.50" y2="284.10" stroke="#000" stroke-width="1.4"/>
<line x1="441.90" y1="283.60" x2="557.10" y2="283.60" stroke="#000" stroke-width="1.5"/>
<line x1="441.90" y1="173.30" x2="446.50" y2="173.30" stroke="#000" stroke-width="1.1"/>
<text x="440.50" y="177.15" font-size="10.1" font-weight="bold" text-anchor="end" letter-spacing="0.35">0.15</text>
<line x1="441.90" y1="210.10" x2="446.50" y2="210.10" stroke="#000" stroke-width="1.1"/>
<text x="440.50" y="213.95" font-size="10.1" font-weight="bold" text-anchor="end" letter-spacing="0.35">0.10</text>
<line x1="441.90" y1="246.90" x2="446.50" y2="246.90" stroke="#000" stroke-width="1.1"/>
<text x="440.50" y="250.75" font-size="10.1" font-weight="bold" text-anchor="end" letter-spacing="0.35">0.05</text>
<line x1="441.90" y1="283.60" x2="446.50" y2="283.60" stroke="#000" stroke-width="1.1"/>
<text x="440.50" y="287.45" font-size="10.1" font-weight="bold" text-anchor="end" letter-spacing="0.35">0.00</text>
<line x1="472.30" y1="283.60" x2="472.30" y2="288.40" stroke="#000" stroke-width="1.1"/>
<text x="472.30" y="298.90" font-size="10.1" font-weight="bold" text-anchor="middle" letter-spacing="0.3">ZT0</text>
<line x1="532.00" y1="283.60" x2="532.00" y2="288.40" stroke="#000" stroke-width="1.1"/>
<text x="532.00" y="298.90" font-size="10.1" font-weight="bold" text-anchor="middle" letter-spacing="0.3">ZT12</text>
<text transform="translate(411.90,228.00) rotate(-90)" font-size="10.3" font-weight="bold" text-anchor="middle" word-spacing="0.6">HDM IgG3 (OD<tspan font-size="7.9" dy="2.3">450</tspan><tspan dy="-2.3">)</tspan></text>
<circle cx="456.30" cy="274.70" r="2.45" fill="#000"/>
<circle cx="460.20" cy="273.20" r="2.45" fill="#000"/>
<circle cx="467.10" cy="275.30" r="2.45" fill="#000"/>
<circle cx="459.20" cy="279.80" r="2.45" fill="#000"/>
<circle cx="463.60" cy="277.60" r="2.45" fill="#000"/>
<line x1="454.50" y1="276.40" x2="469.00" y2="276.40" stroke="#000" stroke-width="0.9"/>
<line x1="461.75" y1="275.20" x2="461.75" y2="277.60" stroke="#000" stroke-width="0.9"/>
<line x1="458.05" y1="275.20" x2="465.45" y2="275.20" stroke="#000" stroke-width="0.9"/>
<line x1="458.05" y1="277.60" x2="465.45" y2="277.60" stroke="#000" stroke-width="0.9"/>
<rect x="481.25" y="238.65" width="5.3" height="5.3" fill="#000"/>
<rect x="475.95" y="265.75" width="5.3" height="5.3" fill="#000"/>
<rect x="486.65" y="263.05" width="5.3" height="5.3" fill="#000"/>
<rect x="486.65" y="267.05" width="5.3" height="5.3" fill="#000"/>
<rect x="481.25" y="274.45" width="5.3" height="5.3" fill="#000"/>
<line x1="476.20" y1="264.70" x2="491.30" y2="264.70" stroke="#000" stroke-width="0.9"/>
<line x1="483.75" y1="258.40" x2="483.75" y2="270.70" stroke="#000" stroke-width="0.9"/>
<line x1="480.05" y1="258.40" x2="487.45" y2="258.40" stroke="#000" stroke-width="0.9"/>
<line x1="480.05" y1="270.70" x2="487.45" y2="270.70" stroke="#000" stroke-width="0.9"/>
<circle cx="515.90" cy="276.00" r="2.45" fill="#000"/>
<circle cx="521.60" cy="274.70" r="2.45" fill="#000"/>
<circle cx="525.80" cy="277.20" r="2.45" fill="#000"/>
<circle cx="515.90" cy="280.10" r="2.45" fill="#000"/>
<circle cx="522.00" cy="278.90" r="2.45" fill="#000"/>
<line x1="513.00" y1="277.60" x2="527.50" y2="277.60" stroke="#000" stroke-width="0.9"/>
<line x1="520.25" y1="276.60" x2="520.25" y2="278.60" stroke="#000" stroke-width="0.9"/>
<line x1="516.55" y1="276.60" x2="523.95" y2="276.60" stroke="#000" stroke-width="0.9"/>
<line x1="516.55" y1="278.60" x2="523.95" y2="278.60" stroke="#000" stroke-width="0.9"/>
<rect x="534.75" y="270.45" width="5.3" height="5.3" fill="#000"/>
<rect x="534.95" y="274.05" width="5.3" height="5.3" fill="#000"/>
<rect x="541.65" y="273.05" width="5.3" height="5.3" fill="#000"/>
<rect x="545.45" y="270.55" width="5.3" height="5.3" fill="#000"/>
<line x1="535.50" y1="275.10" x2="550.00" y2="275.10" stroke="#000" stroke-width="0.9"/>
<line x1="542.75" y1="274.10" x2="542.75" y2="276.10" stroke="#000" stroke-width="0.9"/>
<line x1="539.05" y1="274.10" x2="546.45" y2="274.10" stroke="#000" stroke-width="0.9"/>
<line x1="539.05" y1="276.10" x2="546.45" y2="276.10" stroke="#000" stroke-width="0.9"/>
<line x1="591.40" y1="172.20" x2="591.40" y2="283.90" stroke="#000" stroke-width="1.4"/>
<line x1="586.80" y1="283.40" x2="702.20" y2="283.40" stroke="#000" stroke-width="1.5"/>
<line x1="586.80" y1="172.70" x2="591.40" y2="172.70" stroke="#000" stroke-width="1.1"/>
<text x="585.40" y="176.55" font-size="10.1" font-weight="bold" text-anchor="end" letter-spacing="0.35">0.15</text>
<line x1="586.80" y1="209.50" x2="591.40" y2="209.50" stroke="#000" stroke-width="1.1"/>
<text x="585.40" y="213.35" font-size="10.1" font-weight="bold" text-anchor="end" letter-spacing="0.35">0.10</text>
<line x1="586.80" y1="246.60" x2="591.40" y2="246.60" stroke="#000" stroke-width="1.1"/>
<text x="585.40" y="250.45" font-size="10.1" font-weight="bold" text-anchor="end" letter-spacing="0.35">0.05</text>
<line x1="586.80" y1="283.40" x2="591.40" y2="283.40" stroke="#000" stroke-width="1.1"/>
<text x="585.40" y="287.25" font-size="10.1" font-weight="bold" text-anchor="end" letter-spacing="0.35">0.00</text>
<line x1="616.90" y1="283.40" x2="616.90" y2="288.20" stroke="#000" stroke-width="1.1"/>
<text x="616.90" y="299.20" font-size="10.1" font-weight="bold" text-anchor="middle" letter-spacing="0.3">ZT0</text>
<line x1="676.40" y1="283.40" x2="676.40" y2="288.20" stroke="#000" stroke-width="1.1"/>
<text x="676.40" y="299.20" font-size="10.1" font-weight="bold" text-anchor="middle" letter-spacing="0.3">ZT12</text>
<circle cx="601.20" cy="252.30" r="2.65" fill="#000"/>
<circle cx="606.20" cy="255.30" r="2.65" fill="#000"/>
<circle cx="611.30" cy="259.60" r="2.65" fill="#000"/>
<circle cx="601.20" cy="265.30" r="2.65" fill="#000"/>
<circle cx="606.20" cy="265.30" r="2.65" fill="#000"/>
<circle cx="611.30" cy="266.00" r="2.65" fill="#000"/>
<line x1="598.60" y1="260.30" x2="614.30" y2="260.30" stroke="#000" stroke-width="0.9"/>
<line x1="606.45" y1="257.60" x2="606.45" y2="263.00" stroke="#000" stroke-width="0.9"/>
<line x1="602.75" y1="257.60" x2="610.15" y2="257.60" stroke="#000" stroke-width="0.9"/>
<line x1="602.75" y1="263.00" x2="610.15" y2="263.00" stroke="#000" stroke-width="0.9"/>
<rect x="625.95" y="255.95" width="5.3" height="5.3" fill="#000"/>
<rect x="620.95" y="264.35" width="5.3" height="5.3" fill="#000"/>
<rect x="630.95" y="260.95" width="5.3" height="5.3" fill="#000"/>
<rect x="630.95" y="267.05" width="5.3" height="5.3" fill="#000"/>
<rect x="620.95" y="270.35" width="5.3" height="5.3" fill="#000"/>
<line x1="621.30" y1="266.00" x2="636.30" y2="266.00" stroke="#000" stroke-width="0.9"/>
<line x1="628.80" y1="263.60" x2="628.80" y2="268.40" stroke="#000" stroke-width="0.9"/>
<line x1="625.10" y1="263.60" x2="632.50" y2="263.60" stroke="#000" stroke-width="0.9"/>
<line x1="625.10" y1="268.40" x2="632.50" y2="268.40" stroke="#000" stroke-width="0.9"/>
<circle cx="665.40" cy="196.80" r="2.65" fill="#000"/>
<circle cx="660.40" cy="268.00" r="2.65" fill="#000"/>
<circle cx="670.40" cy="264.30" r="2.65" fill="#000"/>
<circle cx="660.40" cy="277.00" r="2.65" fill="#000"/>
<circle cx="670.40" cy="276.30" r="2.65" fill="#000"/>
<line x1="658.00" y1="256.30" x2="672.80" y2="256.30" stroke="#000" stroke-width="0.9"/>
<line x1="665.40" y1="241.20" x2="665.40" y2="271.30" stroke="#000" stroke-width="0.9"/>
<line x1="661.70" y1="241.20" x2="669.10" y2="241.20" stroke="#000" stroke-width="0.9"/>
<line x1="661.70" y1="271.30" x2="669.10" y2="271.30" stroke="#000" stroke-width="0.9"/>
<rect x="685.15" y="248.65" width="5.3" height="5.3" fill="#000"/>
<rect x="685.15" y="256.65" width="5.3" height="5.3" fill="#000"/>
<rect x="680.45" y="267.65" width="5.3" height="5.3" fill="#000"/>
<rect x="685.15" y="264.35" width="5.3" height="5.3" fill="#000"/>
<rect x="690.15" y="264.35" width="5.3" height="5.3" fill="#000"/>
<line x1="680.40" y1="263.00" x2="695.50" y2="263.00" stroke="#000" stroke-width="0.9"/>
<line x1="687.95" y1="260.30" x2="687.95" y2="266.00" stroke="#000" stroke-width="0.9"/>
<line x1="684.25" y1="260.30" x2="691.65" y2="260.30" stroke="#000" stroke-width="0.9"/>
<line x1="684.25" y1="266.00" x2="691.65" y2="266.00" stroke="#000" stroke-width="0.9"/>
<line x1="441.90" y1="320.50" x2="441.90" y2="432.50" stroke="#000" stroke-width="1.4"/>
<line x1="437.30" y1="432.00" x2="553.80" y2="432.00" stroke="#000" stroke-width="1.5"/>
<line x1="437.30" y1="321.00" x2="441.90" y2="321.00" stroke="#000" stroke-width="1.1"/>
<text x="435.90" y="324.85" font-size="10.1" font-weight="bold" text-anchor="end" letter-spacing="0.35">2.0</text>
<line x1="437.30" y1="348.60" x2="441.90" y2="348.60" stroke="#000" stroke-width="1.1"/>
<text x="435.90" y="352.45" font-size="10.1" font-weight="bold" text-anchor="end" letter-spacing="0.35">1.5</text>
<line x1="437.30" y1="376.30" x2="441.90" y2="376.30" stroke="#000" stroke-width="1.1"/>
<text x="435.90" y="380.15" font-size="10.1" font-weight="bold" text-anchor="end" letter-spacing="0.35">1.0</text>
<line x1="437.30" y1="404.10" x2="441.90" y2="404.10" stroke="#000" stroke-width="1.1"/>
<text x="435.90" y="407.95" font-size="10.1" font-weight="bold" text-anchor="end" letter-spacing="0.35">0.5</text>
<line x1="437.30" y1="432.00" x2="441.90" y2="432.00" stroke="#000" stroke-width="1.1"/>
<text x="435.90" y="435.85" font-size="10.1" font-weight="bold" text-anchor="end" letter-spacing="0.35">0.0</text>
<line x1="467.80" y1="432.00" x2="467.80" y2="436.80" stroke="#000" stroke-width="1.1"/>
<text x="467.80" y="447.40" font-size="10.1" font-weight="bold" text-anchor="middle" letter-spacing="0.3">ZT0</text>
<line x1="527.30" y1="432.00" x2="527.30" y2="436.80" stroke="#000" stroke-width="1.1"/>
<text x="527.30" y="447.40" font-size="10.1" font-weight="bold" text-anchor="middle" letter-spacing="0.3">ZT12</text>
<text transform="translate(411.90,376.00) rotate(-90)" font-size="10.3" font-weight="bold" text-anchor="middle" word-spacing="0.6">HDM IgM (OD<tspan font-size="7.9" dy="2.3">450</tspan><tspan dy="-2.3">)</tspan></text>
<circle cx="456.80" cy="375.20" r="2.65" fill="#000"/>
<circle cx="456.80" cy="381.90" r="2.65" fill="#000"/>
<circle cx="456.80" cy="390.00" r="2.65" fill="#000"/>
<circle cx="456.80" cy="397.00" r="2.65" fill="#000"/>
<circle cx="456.80" cy="403.60" r="2.65" fill="#000"/>
<line x1="449.50" y1="389.20" x2="464.20" y2="389.20" stroke="#000" stroke-width="0.9"/>
<line x1="456.85" y1="384.20" x2="456.85" y2="394.30" stroke="#000" stroke-width="0.9"/>
<line x1="453.15" y1="384.20" x2="460.55" y2="384.20" stroke="#000" stroke-width="0.9"/>
<line x1="453.15" y1="394.30" x2="460.55" y2="394.30" stroke="#000" stroke-width="0.9"/>
<rect x="476.25" y="353.85" width="5.3" height="5.3" fill="#000"/>
<rect x="476.25" y="365.15" width="5.3" height="5.3" fill="#000"/>
<rect x="476.25" y="371.35" width="5.3" height="5.3" fill="#000"/>
<rect x="476.25" y="379.95" width="5.3" height="5.3" fill="#000"/>
<rect x="476.25" y="389.35" width="5.3" height="5.3" fill="#000"/>
<line x1="471.60" y1="374.50" x2="486.30" y2="374.50" stroke="#000" stroke-width="0.9"/>
<line x1="478.95" y1="367.50" x2="478.95" y2="381.60" stroke="#000" stroke-width="0.9"/>
<line x1="475.25" y1="367.50" x2="482.65" y2="367.50" stroke="#000" stroke-width="0.9"/>
<line x1="475.25" y1="381.60" x2="482.65" y2="381.60" stroke="#000" stroke-width="0.9"/>
<circle cx="516.30" cy="378.40" r="2.65" fill="#000"/>
<circle cx="511.00" cy="381.90" r="2.65" fill="#000"/>
<circle cx="521.00" cy="384.20" r="2.65" fill="#000"/>
<circle cx="516.30" cy="387.60" r="2.65" fill="#000"/>
<circle cx="516.30" cy="402.30" r="2.65" fill="#000"/>
<line x1="508.60" y1="386.60" x2="523.70" y2="386.60" stroke="#000" stroke-width="0.9"/>
<line x1="516.15" y1="382.60" x2="516.15" y2="390.90" stroke="#000" stroke-width="0.9"/>
<line x1="512.45" y1="382.60" x2="519.85" y2="382.60" stroke="#000" stroke-width="0.9"/>
<line x1="512.45" y1="390.90" x2="519.85" y2="390.90" stroke="#000" stroke-width="0.9"/>
<rect x="535.05" y="363.55" width="5.3" height="5.3" fill="#000"/>
<rect x="530.05" y="381.55" width="5.3" height="5.3" fill="#000"/>
<rect x="540.45" y="384.95" width="5.3" height="5.3" fill="#000"/>
<rect x="535.05" y="391.65" width="5.3" height="5.3" fill="#000"/>
<line x1="530.40" y1="382.60" x2="545.40" y2="382.60" stroke="#000" stroke-width="0.9"/>
<line x1="537.90" y1="376.90" x2="537.90" y2="388.60" stroke="#000" stroke-width="0.9"/>
<line x1="534.20" y1="376.90" x2="541.60" y2="376.90" stroke="#000" stroke-width="0.9"/>
<line x1="534.20" y1="388.60" x2="541.60" y2="388.60" stroke="#000" stroke-width="0.9"/>
<line x1="585.50" y1="320.50" x2="585.50" y2="432.50" stroke="#000" stroke-width="1.0"/>
<line x1="580.90" y1="432.00" x2="697.50" y2="432.00" stroke="#000" stroke-width="1.5"/>
<line x1="580.90" y1="321.00" x2="585.50" y2="321.00" stroke="#000" stroke-width="1.1"/>
<text x="579.50" y="324.85" font-size="10.1" font-weight="bold" text-anchor="end" letter-spacing="0.35">2.0</text>
<line x1="580.90" y1="348.60" x2="585.50" y2="348.60" stroke="#000" stroke-width="1.1"/>
<text x="579.50" y="352.45" font-size="10.1" font-weight="bold" text-anchor="end" letter-spacing="0.35">1.5</text>
<line x1="580.90" y1="376.30" x2="585.50" y2="376.30" stroke="#000" stroke-width="1.1"/>
<text x="579.50" y="380.15" font-size="10.1" font-weight="bold" text-anchor="end" letter-spacing="0.35">1.0</text>
<line x1="580.90" y1="404.10" x2="585.50" y2="404.10" stroke="#000" stroke-width="1.1"/>
<text x="579.50" y="407.95" font-size="10.1" font-weight="bold" text-anchor="end" letter-spacing="0.35">0.5</text>
<line x1="580.90" y1="432.00" x2="585.50" y2="432.00" stroke="#000" stroke-width="1.1"/>
<text x="579.50" y="435.85" font-size="10.1" font-weight="bold" text-anchor="end" letter-spacing="0.35">0.0</text>
<line x1="611.30" y1="432.00" x2="611.30" y2="436.80" stroke="#000" stroke-width="1.1"/>
<text x="611.30" y="447.40" font-size="10.1" font-weight="bold" text-anchor="middle" letter-spacing="0.3">ZT0</text>
<line x1="670.80" y1="432.00" x2="670.80" y2="436.80" stroke="#000" stroke-width="1.1"/>
<text x="670.80" y="447.40" font-size="10.1" font-weight="bold" text-anchor="middle" letter-spacing="0.3">ZT12</text>
<circle cx="595.20" cy="378.50" r="2.65" fill="#000"/>
<circle cx="605.90" cy="378.50" r="2.65" fill="#000"/>
<circle cx="600.60" cy="382.60" r="2.65" fill="#000"/>
<circle cx="605.20" cy="395.60" r="2.65" fill="#000"/>
<circle cx="596.20" cy="399.30" r="2.65" fill="#000"/>
<circle cx="600.60" cy="408.60" r="2.65" fill="#000"/>
<line x1="592.90" y1="390.20" x2="607.90" y2="390.20" stroke="#000" stroke-width="0.9"/>
<line x1="600.40" y1="385.20" x2="600.40" y2="395.30" stroke="#000" stroke-width="0.9"/>
<line x1="596.70" y1="385.20" x2="604.10" y2="385.20" stroke="#000" stroke-width="0.9"/>
<line x1="596.70" y1="395.30" x2="604.10" y2="395.30" stroke="#000" stroke-width="0.9"/>
<rect x="619.95" y="349.85" width="5.3" height="5.3" fill="#000"/>
<rect x="619.95" y="373.25" width="5.3" height="5.3" fill="#000"/>
<rect x="619.95" y="377.55" width="5.3" height="5.3" fill="#000"/>
<rect x="619.95" y="384.95" width="5.3" height="5.3" fill="#000"/>
<rect x="619.95" y="391.65" width="5.3" height="5.3" fill="#000"/>
<line x1="615.30" y1="378.50" x2="629.60" y2="378.50" stroke="#000" stroke-width="0.9"/>
<line x1="622.45" y1="370.90" x2="622.45" y2="385.20" stroke="#000" stroke-width="0.9"/>
<line x1="618.75" y1="370.90" x2="626.15" y2="370.90" stroke="#000" stroke-width="0.9"/>
<line x1="618.75" y1="385.20" x2="626.15" y2="385.20" stroke="#000" stroke-width="0.9"/>
<circle cx="659.40" cy="352.50" r="2.65" fill="#000"/>
<circle cx="659.40" cy="363.50" r="2.65" fill="#000"/>
<circle cx="659.40" cy="383.20" r="2.65" fill="#000"/>
<circle cx="664.40" cy="389.90" r="2.65" fill="#000"/>
<circle cx="653.70" cy="394.30" r="2.65" fill="#000"/>
<line x1="652.00" y1="376.50" x2="667.10" y2="376.50" stroke="#000" stroke-width="0.9"/>
<line x1="659.55" y1="368.50" x2="659.55" y2="384.20" stroke="#000" stroke-width="0.9"/>
<line x1="655.85" y1="368.50" x2="663.25" y2="368.50" stroke="#000" stroke-width="0.9"/>
<line x1="655.85" y1="384.20" x2="663.25" y2="384.20" stroke="#000" stroke-width="0.9"/>
<rect x="678.75" y="366.25" width="5.3" height="5.3" fill="#000"/>
<rect x="678.75" y="378.25" width="5.3" height="5.3" fill="#000"/>
<rect x="673.75" y="384.55" width="5.3" height="5.3" fill="#000"/>
<rect x="683.85" y="385.95" width="5.3" height="5.3" fill="#000"/>
<rect x="678.75" y="392.25" width="5.3" height="5.3" fill="#000"/>
<line x1="674.10" y1="384.20" x2="688.80" y2="384.20" stroke="#000" stroke-width="0.9"/>
<line x1="681.45" y1="379.20" x2="681.45" y2="388.60" stroke="#000" stroke-width="0.9"/>
<line x1="677.75" y1="379.20" x2="685.15" y2="379.20" stroke="#000" stroke-width="0.9"/>
<line x1="677.75" y1="388.60" x2="685.15" y2="388.60" stroke="#000" stroke-width="0.9"/>
<text x="97.00" y="10.70" font-size="13.55" font-weight="bold" text-anchor="middle" letter-spacing="0.1">Female mice</text>
<text x="239.30" y="10.70" font-size="13.55" font-weight="bold" text-anchor="middle" letter-spacing="0.1">Male mice</text>
<text x="496.80" y="10.70" font-size="13.55" font-weight="bold" text-anchor="middle" letter-spacing="0.1">Female mice</text>
<text x="639.20" y="10.70" font-size="13.55" font-weight="bold" text-anchor="middle" letter-spacing="0.1">Male mice</text>
<circle cx="316.90" cy="25.20" r="2.9" fill="#000"/>
<text x="330.00" y="29.10" font-size="11.2" font-weight="bold" text-anchor="start" >PBS</text>
<rect x="314.20" y="38.50" width="5.4" height="5.4" fill="#000"/>
<text x="330.00" y="45.10" font-size="11.2" font-weight="bold" text-anchor="start" >HDM</text>
<circle cx="714.70" cy="25.40" r="2.9" fill="#000"/>
<text x="727.50" y="29.30" font-size="11.2" font-weight="bold" text-anchor="start" >PBS</text>
<rect x="712.00" y="38.70" width="5.4" height="5.4" fill="#000"/>
<text x="727.50" y="45.30" font-size="11.2" font-weight="bold" text-anchor="start" >HDM</text>
<text x="313.10" y="88.80" font-size="6.65" font-weight="normal" text-anchor="start" textLength="62.1" lengthAdjust="spacingAndGlyphs" word-spacing="0.7" style="stroke-width:0.28px">Treatment (P &lt; .003)</text>
<text x="313.10" y="241.10" font-size="6.65" font-weight="normal" text-anchor="start" textLength="62.1" lengthAdjust="spacingAndGlyphs" word-spacing="0.7" style="stroke-width:0.28px">Treatment (P &lt; .001)</text>
<text x="313.10" y="390.10" font-size="6.65" font-weight="normal" text-anchor="start" textLength="78.2" lengthAdjust="spacingAndGlyphs" word-spacing="0.7" style="stroke-width:0.28px">Treatment x Sex (P &lt; .02)</text>
<text x="711.80" y="88.80" font-size="6.65" font-weight="normal" text-anchor="start" textLength="59.0" lengthAdjust="spacingAndGlyphs" word-spacing="0.7" style="stroke-width:0.28px">Treatment (P &lt; .04)</text>
</svg>
</body></html>
